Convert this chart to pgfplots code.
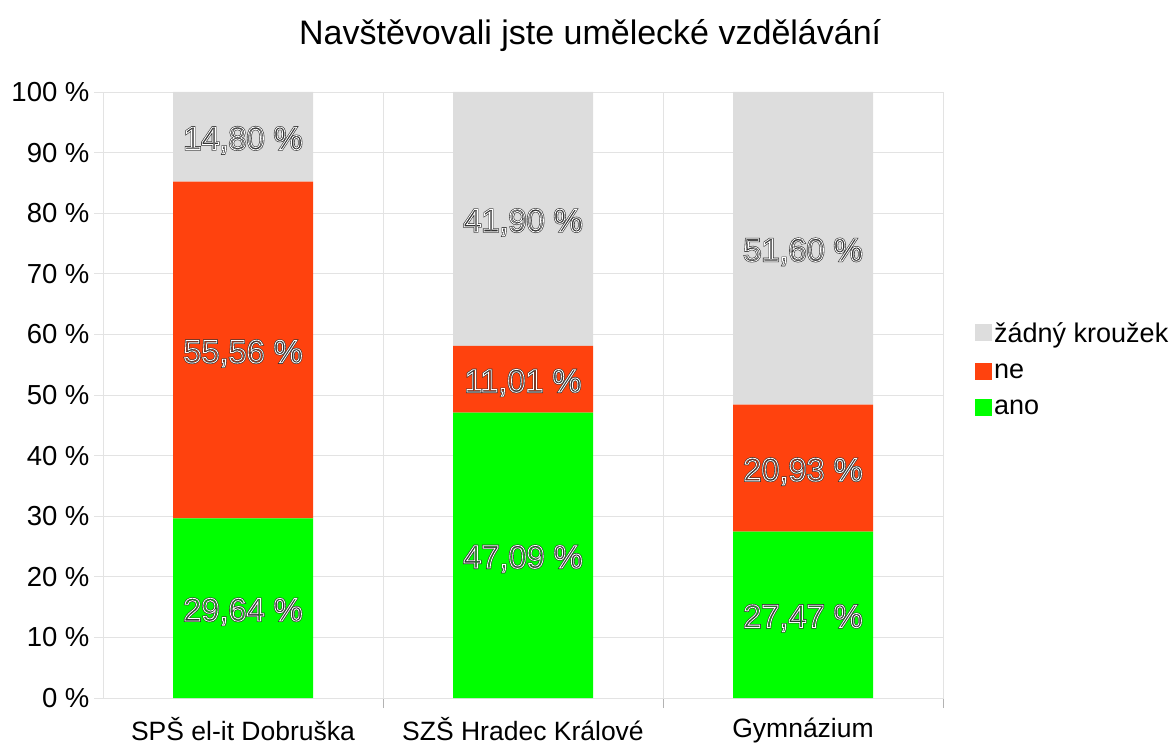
\documentclass[border=0pt]{standalone}
\usepackage{pgfplots}
\pgfplotsset{compat=1.18}
\usepackage{fontspec}
\setmainfont{Liberation Sans}

\definecolor{cano}{HTML}{00FF00}
\definecolor{cne}{HTML}{FF420E}
\definecolor{czadny}{HTML}{DDDDDD}
\definecolor{gridc}{HTML}{E3E3E3}
\definecolor{tickc}{HTML}{B3B3B3}

% hollow (outlined) data labels: dark stroke with a thin white line inside
\newcommand{\lbl}[1]{%
  \special{pdf:literal direct 1 Tr 2.0 w 0.2 0.2 0.2 RG}\rlap{#1}%
  \special{pdf:literal direct 1 Tr 0.8 w 1 1 1 RG}#1%
  \special{pdf:literal direct 0 Tr}}

\begin{document}
\begin{tikzpicture}
  \begin{axis}[
    name=ax,
    scale only axis,
    width=840pt, height=606pt,
    ybar stacked,
    bar width=140pt,
    xmin=-0.5, xmax=2.5,
    ymin=0, ymax=100,
    ytick={0,10,...,100},
    yticklabel={\pgfmathprintnumber{\tick}~\%},
    /pgf/number format/assume math mode=true,
    xtick={0,1,2},
    xticklabels={SPŠ el-it Dobruška, SZŠ Hradec Králové, Gymnázium},
    minor xtick={0.5,1.5,2.5},
    major x tick style={draw=none},
    minor x tick style={draw=tickc, line width=0.8pt},
    minor tick length=10pt,
    y tick style={draw=gridc, line width=0.8pt},
    major tick length=9pt,
    tick align=outside,
    xtick pos=bottom, ytick pos=left,
    ymajorgrids, minor x grid style={draw=gridc, line width=0.8pt},
    xminorgrids,
    major grid style={draw=gridc, line width=0.8pt},
    axis line style={draw=gridc, line width=0.8pt},
    yticklabel style={font=\fontsize{27.5}{32}\selectfont, text=black, xshift=-1pt},
    xticklabel style={font=\fontsize{26.5}{31}\selectfont, text=black, yshift=-7pt},
    title={Navštěvovali jste umělecké vzdělávání},
    title style={font=\fontsize{34}{40}\selectfont, at={(0.58,1)}, anchor=south, yshift=31pt},
    legend style={draw=none, fill=none, at={(1,0.5)}, anchor=west, xshift=29pt, yshift=26pt,
      font=\fontsize{27}{31}\selectfont, row sep=16pt},
    legend cell align=left,
    reverse legend,
    legend image code/.code={\fill[#1] (0pt,-8.5pt) rectangle (17pt,8.5pt);},
    point meta=explicit symbolic,
    nodes near coords={\lbl{\pgfplotspointmeta}},
    every node near coord/.append style={anchor=center, yshift=-3.5pt, font=\fontsize{32.5}{38}\selectfont},
  ]
  \addplot[draw=none, fill=cano] coordinates {
    (0,29.64) [29,64 \%] (1,47.09) [47,09 \%] (2,27.47) [27,47 \%]
  };
  \addplot[draw=none, fill=cne] coordinates {
    (0,55.56) [55,56 \%] (1,11.01) [11,01 \%] (2,20.93) [20,93 \%]
  };
  \addplot[draw=none, fill=czadny] coordinates {
    (0,14.80) [14,80 \%] (1,41.90) [41,90 \%] (2,51.60) [51,60 \%]
  };
  \legend{ano, ne, žádný kroužek}
  \end{axis}
  \pgfresetboundingbox
  \path ([shift={(-103pt,-47pt)}]ax.south west) rectangle ([shift={(230pt,92pt)}]ax.north east);
\end{tikzpicture}
\end{document}
